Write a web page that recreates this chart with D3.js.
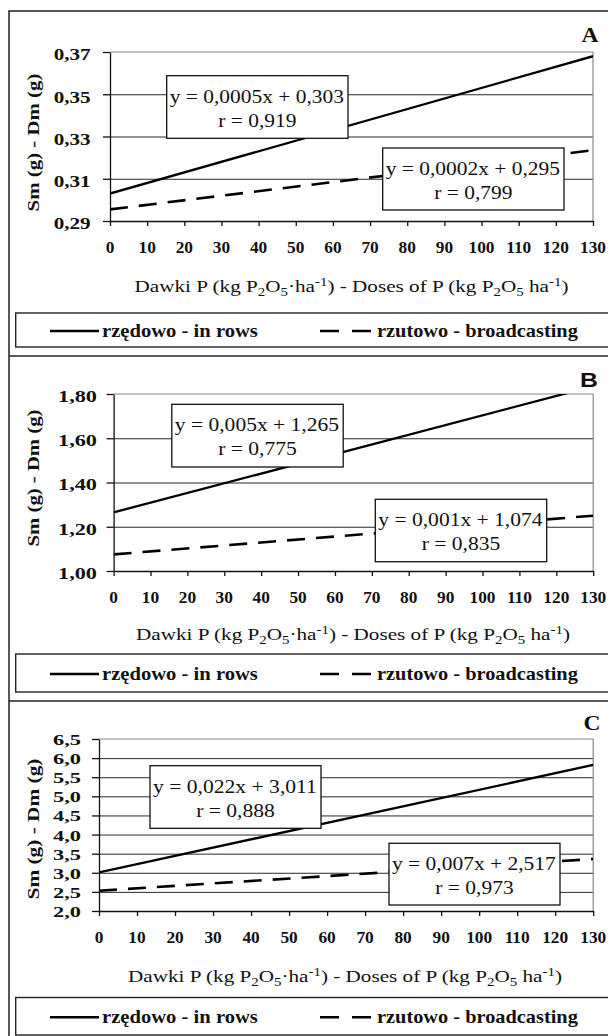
<!DOCTYPE html>
<html>
<head>
<meta charset="utf-8">
<script src="https://cdn.jsdelivr.net/npm/d3@7"></script>
<style>
  body { margin: 0; background: #fff; }
  svg { display: block; }
</style>
</head>
<body>
<script>
// ---- data ----
var doses = [0, 10, 20, 30, 40, 50, 60, 70, 80, 90, 100, 110, 120, 130];
var trendX = [0, 130];

var yTicksA = [0.29, 0.31, 0.33, 0.35, 0.37];
var yTicksB = [1.00, 1.20, 1.40, 1.60, 1.80];
var yTicksC = [2.0, 2.5, 3.0, 3.5, 4.0, 4.5, 5.0, 5.5, 6.0, 6.5];

// trend line values at dose 0 and 130
var rowsA = [0.303, 0.368];
var broadA = [0.2955, 0.3235];
var rowsB = [1.265, 1.835];
var broadB = [1.075, 1.250];
var rowsC = [3.01, 5.82];
var broadC = [2.53, 3.36];

var eqRowsA = ['y = 0,0005x + 0,303', 'r = 0,919'];
var eqBroadA = ['y = 0,0002x + 0,295', 'r = 0,799'];
var eqRowsB = ['y = 0,005x + 1,265', 'r = 0,775'];
var eqBroadB = ['y = 0,001x + 1,074', 'r = 0,835'];
var eqRowsC = ['y = 0,022x + 3,011', 'r = 0,888'];
var eqBroadC = ['y = 0,007x + 2,517', 'r = 0,973'];

var seriesNames = ['rzędowo - in rows', 'rzutowo - broadcasting'];
var yTitle = 'Sm  (g)  -  Dm  (g)';

var panels = [
    { id: 'A', yTicks: yTicksA, rows: rowsA, broad: broadA, eq1: eqRowsA, eq2: eqBroadA, dec: 2 },
    { id: 'B', yTicks: yTicksB, rows: rowsB, broad: broadB, eq1: eqRowsB, eq2: eqBroadB, dec: 2 },
    { id: 'C', yTicks: yTicksC, rows: rowsC, broad: broadC, eq1: eqRowsC, eq2: eqBroadC, dec: 1 }
];

// ---- layout ----
var layout = [
    { top: 11, letterX: 590, letterY: 41.7, letterW: 17, letterSans: false,
      x0: 110, x1: 593, yT: 52, yB: 221,
      labR: 90.7, labW: 37, labFont: 17, labDy: 8.3,
      yTitleCy: 142.5, yTitleLen: 138,
      xLabY: 252.5, xTitleY: 291.5, xTitleCx: 351.5,
      legY0: 313, legY1: 347,
      box1: [166.7, 75.7, 181.3, 62.6], box2: [382.7, 148, 181.3, 62] },
    { top: 356, letterX: 589, letterY: 386.7, letterW: 18, letterSans: true,
      x0: 113.6, x1: 593.2, yT: 394, yB: 571,
      labR: 97, labW: 39, labFont: 17, labDy: 7.8,
      yTitleCy: 478, yTitleLen: 137,
      xLabY: 603.3, xTitleY: 640, xTitleCx: 353,
      legY0: 654, legY1: 692,
      box1: [171.8, 404.3, 171.4, 62.7], box2: [375.3, 499.3, 171.4, 62.4] },
    { top: 701, letterX: 592, letterY: 730, letterW: 17, letterSans: false,
      x0: 99, x1: 593.2, yT: 739, yB: 911,
      labR: 81, labW: 28, labFont: 15, labDy: 6,
      yTitleCy: 829, yTitleLen: 141,
      xLabY: 943.3, xTitleY: 982, xTitleCx: 345,
      legY0: 997.5, legY1: 1035,
      box1: [150, 765.7, 171, 62.6], box2: [389, 843.3, 171, 61.7] }
];

var W = 608, H = 1036;
var serif = "'Liberation Serif', 'Times New Roman', serif";
var sans = "'Liberation Sans', Arial, sans-serif";

var svg = d3.select('body')
    .append('svg')
    .attr('width', W)
    .attr('height', H)

// text stretched horizontally to a given width, returns the stretch factor
function fitted(parent, x, y, w, anchor, build) {
    var g = parent.append('g');
    var t = g.append('text').attr('text-anchor', anchor);
    build(t);
    var k = w / t.node().getComputedTextLength();
    g.attr('transform', 'translate(' + x + ',' + y + ') scale(' + k + ',1)');
    return k;
}

function scaled(parent, x, y, k, anchor, build) {
    var g = parent.append('g')
        .attr('transform', 'translate(' + x + ',' + y + ') scale(' + k + ',1)');
    var t = g.append('text').attr('text-anchor', anchor);
    build(t);
    return t;
}

// x axis title with sub/superscripts
function buildXTitle(t) {
    var cur = 0;
    function seg(s, shift, size) {
        t.append('tspan')
            .attr('dy', shift - cur)
            .attr('font-size', size)
            .text(s);
        cur = shift;
    }
    t.attr('font-family', serif).attr('font-size', 17).attr('fill', '#111');
    seg('Dawki P (kg P', 0, 17);
    seg('2', 4, 12);
    seg('O', 0, 17);
    seg('5', 4, 12);
    seg('·ha', 0, 17);
    seg('-1', -6, 12);
    seg(') - Doses of P (kg P', 0, 17);
    seg('2', 4, 12);
    seg('O', 0, 17);
    seg('5', 4, 12);
    seg(' ha', 0, 17);
    seg('-1', -6, 12);
    seg(')', 0, 17);
}

// outer frame
svg.append('path')
    .attr('d', 'M9,1036 V11 H612')
    .attr('fill', 'none')
    .attr('stroke', '#222')
    .attr('stroke-width', 1.5)

panels.forEach(function (p, i) {
    var L = layout[i];
    var g = svg.append('g').attr('class', 'panel-' + p.id);

    if (i > 0) {
        g.append('line')
            .attr('x1', 9).attr('x2', 612)
            .attr('y1', L.top).attr('y2', L.top)
            .attr('stroke', '#222')
            .attr('stroke-width', 1.5)
    }

    var x = d3.scaleLinear()
        .domain([0, 130])
        .range([L.x0, L.x1])

    var y = d3.scaleLinear()
        .domain([p.yTicks[0], p.yTicks[p.yTicks.length - 1]])
        .range([L.yB, L.yT])

    // gridlines
    g.append('g')
        .attr('transform', 'translate(' + L.x0 + ',0)')
        .call(d3.axisLeft(y).tickValues(p.yTicks.slice(1, -1)).tickSize(-(L.x1 - L.x0)).tickFormat(''))
        .call(function (s) {
            s.select('.domain').remove();
            s.selectAll('line').attr('stroke', '#2a2a2a').attr('stroke-width', 1);
        })

    // plot frame top + right (grey)
    g.append('path')
        .attr('d', 'M' + L.x0 + ',' + L.yT + ' H' + L.x1 + ' V' + L.yB)
        .attr('fill', 'none')
        .attr('stroke', '#8a8a8a')
        .attr('stroke-width', 1.2)

    // trend lines
    var clipId = 'clip' + p.id;
    g.append('clipPath').attr('id', clipId)
        .append('rect')
        .attr('x', L.x0).attr('y', L.yT)
        .attr('width', L.x1 - L.x0).attr('height', L.yB - L.yT)

    var line = d3.line()
        .x(function (d) { return x(d[0]); })
        .y(function (d) { return y(d[1]); })

    g.append('path')
        .datum(d3.zip(trendX, p.broad))
        .attr('clip-path', 'url(#' + clipId + ')')
        .attr('d', line)
        .attr('fill', 'none')
        .attr('stroke', '#000')
        .attr('stroke-width', 2.6)
        .attr('stroke-dasharray', '18,11')

    g.append('path')
        .datum(d3.zip(trendX, p.rows))
        .attr('clip-path', 'url(#' + clipId + ')')
        .attr('d', line)
        .attr('fill', 'none')
        .attr('stroke', '#000')
        .attr('stroke-width', 2.3)

    // axes
    g.append('g')
        .attr('transform', 'translate(' + L.x0 + ',0)')
        .call(d3.axisLeft(y).tickValues(p.yTicks).tickSize(7).tickSizeOuter(0).tickFormat(''))
        .call(function (s) {
            s.selectAll('path, line').attr('stroke', '#111').attr('stroke-width', 1.3);
        })

    g.append('g')
        .attr('transform', 'translate(0,' + L.yB + ')')
        .call(d3.axisBottom(x).tickValues(doses).tickSize(5).tickSizeOuter(0).tickFormat(''))
        .call(function (s) {
            s.selectAll('path, line').attr('stroke', '#111').attr('stroke-width', 1.3);
        })

    // y tick labels
    var fmt = d3.format('.' + p.dec + 'f');
    var ky = null;
    p.yTicks.slice().reverse().forEach(function (v) {
        var build = function (t) {
            t.attr('font-family', serif).attr('font-weight', 'bold')
                .attr('font-size', L.labFont).attr('fill', '#111')
                .text(fmt(v).replace('.', ','));
        };
        if (ky === null) {
            ky = fitted(g, L.labR, y(v) + L.labDy, L.labW, 'end', build);
        } else {
            scaled(g, L.labR, y(v) + L.labDy, ky, 'end', build);
        }
    });

    // x tick labels
    var xLab = function (d) {
        return function (t) {
            t.attr('font-family', serif).attr('font-weight', 'bold')
                .attr('font-size', 16).attr('fill', '#111')
                .text(d);
        };
    };
    var kx = fitted(g, x(doses[doses.length - 1]), L.xLabY, 26, 'middle', xLab(doses[doses.length - 1]));
    doses.slice(0, -1).forEach(function (d) {
        scaled(g, x(d), L.xLabY, kx, 'middle', xLab(d));
    });

    // y axis title
    var yt = g.append('g');
    var ytt = yt.append('text')
        .attr('text-anchor', 'middle')
        .attr('font-family', serif)
        .attr('font-weight', 'bold')
        .attr('font-size', 17)
        .attr('fill', '#111')
        .text(yTitle)
    var kyt = L.yTitleLen / ytt.node().getComputedTextLength();
    yt.attr('transform', 'translate(39,' + L.yTitleCy + ') rotate(-90) scale(' + kyt + ',1)');

    // x axis title
    fitted(g, L.xTitleCx, L.xTitleY, 434, 'middle', buildXTitle);

    // panel letter
    fitted(g, L.letterX, L.letterY, L.letterW, 'middle', function (t) {
        t.attr('font-family', L.letterSans ? sans : serif)
            .attr('font-weight', 'bold')
            .attr('font-size', 20)
            .attr('fill', '#111')
            .text(p.id);
    });

    // equation boxes
    [[L.box1, p.eq1], [L.box2, p.eq2]].forEach(function (b) {
        var r = b[0];
        g.append('rect')
            .attr('x', r[0]).attr('y', r[1])
            .attr('width', r[2]).attr('height', r[3])
            .attr('fill', '#fff')
            .attr('stroke', '#111')
            .attr('stroke-width', 1.3)
        var k = fitted(g, r[0] + 3, r[1] + 27, r[2] - 7, 'start', function (t) {
            t.attr('font-family', serif).attr('font-size', 19).attr('fill', '#111').text(b[1][0]);
        });
        scaled(g, r[0] + r[2] / 2, r[1] + 51, k, 'middle', function (t) {
            t.attr('font-family', serif).attr('font-size', 19).attr('fill', '#111').text(b[1][1]);
        });
    });

    // legend
    var mid = (L.legY0 + L.legY1) / 2 + 1;
    g.append('rect')
        .attr('x', 15.7).attr('y', L.legY0)
        .attr('width', 600).attr('height', L.legY1 - L.legY0)
        .attr('fill', 'none')
        .attr('stroke', '#222')
        .attr('stroke-width', 1.4)

    g.append('line')
        .attr('x1', 50).attr('x2', 99)
        .attr('y1', mid).attr('y2', mid)
        .attr('stroke', '#000').attr('stroke-width', 2.3)

    g.append('line')
        .attr('x1', 320).attr('x2', 372)
        .attr('y1', mid).attr('y2', mid)
        .attr('stroke', '#000').attr('stroke-width', 2.6)
        .attr('stroke-dasharray', '19,13')

    fitted(g, 102, mid + 6, 156, 'start', function (t) {
        t.attr('font-family', serif).attr('font-weight', 'bold')
            .attr('font-size', 18).attr('fill', '#111').text(seriesNames[0]);
    });
    fitted(g, 377, mid + 6, 201, 'start', function (t) {
        t.attr('font-family', serif).attr('font-weight', 'bold')
            .attr('font-size', 18).attr('fill', '#111').text(seriesNames[1]);
    });
});
</script>
</body>
</html>
